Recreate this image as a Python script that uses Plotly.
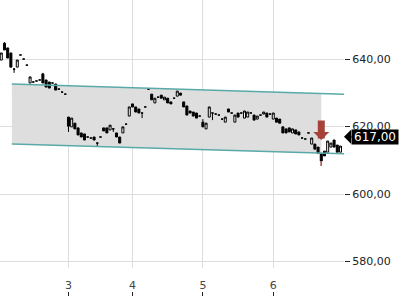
import plotly.graph_objects as go
import numpy as np

# ---- data ----
day_labels = ["3", "4", "5", "6"]
day_start_index = [21, 41, 63, 85]

open_ = [639.7, 644.7, 643.3, 641.8, 637.0, 637.6, 641.2, 640.0, 638.2, 632.9,
         633.2, 633.5, 633.8, 635.6, 633.8, 633.2, 632.9, 632.6, 631.1, 630.2,
         629.6, 622.8, 619.9, 621.0, 619.6, 618.1, 617.8, 616.9, 616.6, 616.9,
         615.1, 616.9, 619.6, 619.6, 619.0, 619.3, 618.1, 616.9, 618.1, 620.7,
         623.1, 626.7, 625.8, 625.2, 624.0, 625.8, 631.1, 629.6, 627.0, 628.7,
         629.3, 627.9, 628.4, 627.3, 628.4, 629.0, 629.9, 627.3, 626.1, 624.6,
         624.3, 624.0, 623.1, 621.3, 619.3, 622.8, 624.0, 623.7, 623.4, 622.2,
         621.3, 625.2, 624.0, 621.3, 624.0, 624.0, 622.5, 622.8, 624.0, 623.4,
         622.2, 623.4, 623.7, 624.0, 623.7, 622.2, 622.5, 622.2, 619.9, 619.3,
         619.6, 618.1, 619.0, 618.4, 616.6, 616.3, 618.1, 614.8, 614.8, 613.9,
         611.9, 612.7, 612.4, 613.9, 616.0, 614.5, 612.4]
close_ = [641.8, 642.7, 640.3, 637.6, 637.0, 639.7, 641.2, 640.0, 638.2, 634.7,
          633.2, 633.5, 633.8, 632.9, 631.7, 631.4, 632.9, 630.8, 631.1, 630.2,
          629.6, 620.1, 622.5, 619.3, 617.5, 616.9, 616.0, 616.9, 616.6, 616.0,
          615.1, 616.9, 618.7, 618.1, 620.4, 619.3, 616.9, 615.1, 619.9, 620.7,
          625.8, 625.8, 624.3, 624.0, 624.0, 625.8, 631.1, 627.9, 628.4, 628.7,
          628.4, 628.7, 627.0, 626.7, 628.4, 630.5, 629.3, 625.8, 623.4, 624.0,
          623.1, 622.5, 623.1, 619.9, 621.0, 625.8, 624.0, 623.7, 623.4, 622.2,
          622.8, 624.3, 624.0, 623.4, 622.8, 624.0, 624.6, 624.3, 624.0, 621.9,
          623.1, 623.4, 624.3, 622.8, 623.7, 624.0, 621.3, 621.0, 618.1, 618.1,
          618.4, 619.3, 617.8, 617.5, 616.6, 616.3, 618.1, 616.6, 613.3, 612.1,
          609.8, 611.3, 615.7, 615.1, 613.9, 612.4, 614.2]
wick_high = {1: 645.0, 4: 637.3, 13: 635.9, 63: 622.2}
wick_low = {4: 635.9, 21: 618.4, 30: 614.2, 35: 618.4, 44: 622.5, 66: 621.9, 100: 608.3}

channel_x = [3.3, 107.1]
channel_upper = [632.6, 629.6]
channel_lower = [614.8, 611.9]
channel_fill_end = 100

signal_index = 100
signal_arrow_price = 616.0
last_price = 617.00

y_ticks = [580, 600, 620, 640]

# ---- derived ----
n = len(open_)
x = list(range(n))
high_ = [wick_high.get(i, max(o, c)) for i, (o, c) in enumerate(zip(open_, close_))]
low_ = [wick_low.get(i, min(o, c)) for i, (o, c) in enumerate(zip(open_, close_))]

fx = [channel_x[0], channel_fill_end]
fu = list(np.interp(fx, channel_x, channel_upper))
fl = list(np.interp(fx, channel_x, channel_lower))

FONT = "DejaVu Sans"
fig = go.Figure()

# channel fill below the grid
fig.add_shape(type="path", xref="x", yref="y", layer="below",
              path=(f"M {fx[0]},{fl[0]} L {fx[1]},{fl[1]} "
                    f"L {fx[1]},{fu[1]} L {fx[0]},{fu[0]} Z"),
              fillcolor="#dedede", line=dict(width=0))

fig.add_trace(go.Candlestick(
    x=x, open=open_, high=high_, low=low_, close=close_,
    increasing=dict(line=dict(color="black", width=1), fillcolor="white"),
    decreasing=dict(line=dict(color="black", width=1), fillcolor="black"),
    whiskerwidth=0, hoverinfo="skip"))

for yy in (channel_upper, channel_lower):
    fig.add_trace(go.Scatter(x=channel_x, y=yy, mode="lines",
                             line=dict(color="#5aa9a9", width=1.5),
                             hoverinfo="skip"))

fig.add_trace(go.Scatter(x=[signal_index, signal_index],
                         y=[min(open_[signal_index], close_[signal_index]), low_[signal_index]],
                         mode="lines", line=dict(color="#c9524a", width=1.5),
                         hoverinfo="skip"))

fig.add_annotation(x=signal_index, y=signal_arrow_price, xref="x", yref="y",
                   text="", showarrow=True, ax=0, ay=-21,
                   arrowhead=1, arrowwidth=7, arrowsize=0.38,
                   arrowcolor="#a5423a")

# last-price tag with a left-pointing arrow
fig.add_annotation(x=1, y=last_price, xref="paper", yref="y",
                   text=f"{last_price:.2f}".replace(".", ","),
                   showarrow=True, ax=31, ay=0, standoff=0,
                   arrowhead=1, arrowwidth=2, arrowsize=1.17, arrowcolor="black",
                   width=46, height=14, align="center", valign="middle",
                   font=dict(family=FONT, size=12, color="white"),
                   bgcolor="black", borderpad=0)

fig.update_layout(
    width=400, height=300,
    margin=dict(l=0, r=56, t=0, b=0),
    paper_bgcolor="white", plot_bgcolor="white",
    showlegend=False, hovermode=False,
    separators=", ",
    boxgap=0.1,
    font=dict(family=FONT, size=11, color="#222"),
    xaxis=dict(range=[-0.4, 107.1], tickvals=day_start_index, ticktext=day_labels,
               anchor="free", position=0.013, ticks="inside", ticklen=4,
               tickcolor="#222", ticklabelposition="inside",
               showgrid=True, gridcolor="#dddddd", gridwidth=1,
               zeroline=False, showline=False, rangeslider=dict(visible=False),
               fixedrange=True),
    yaxis=dict(range=[578.1, 657.5], tickvals=y_ticks, tickformat=".2f",
               side="right", domain=[0.107, 1], ticks="outside", ticklen=5,
               tickcolor="#222", showgrid=True, gridcolor="#dddddd",
               zeroline=False, showline=False, fixedrange=True),
)

fig.write_html("out.html")
